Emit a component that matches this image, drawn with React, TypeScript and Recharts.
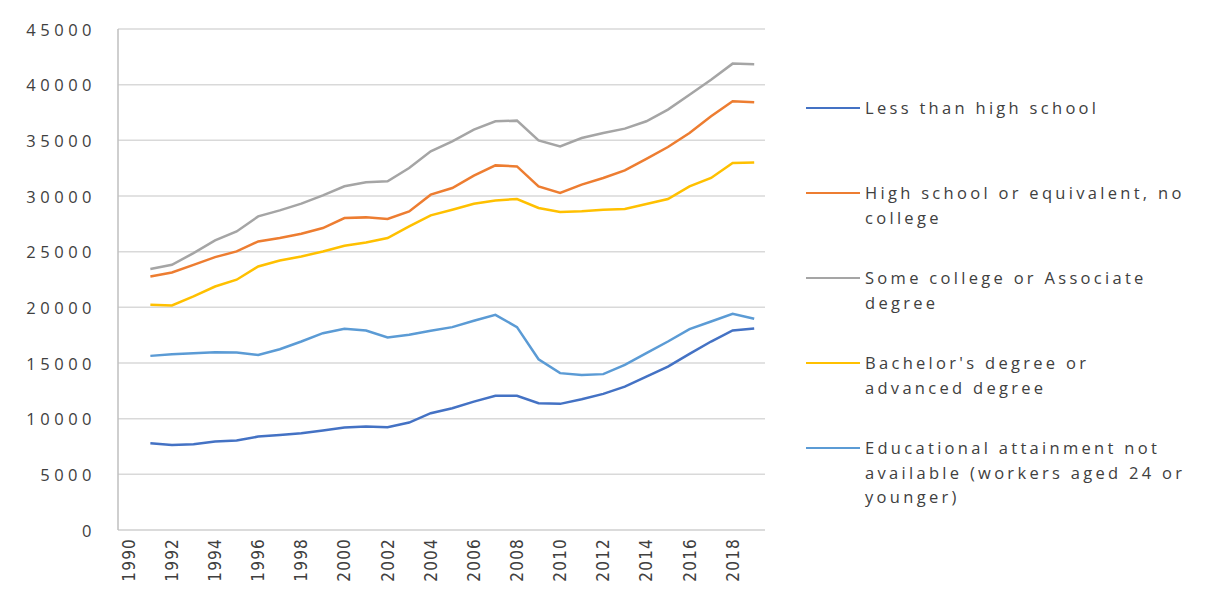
import { LineChart, Line, XAxis, YAxis, CartesianGrid, Legend } from "recharts";

const years = [
  "1990", "1991", "1992", "1993", "1994", "1995", "1996", "1997", "1998", "1999",
  "2000", "2001", "2002", "2003", "2004", "2005", "2006", "2007", "2008", "2009",
  "2010", "2011", "2012", "2013", "2014", "2015", "2016", "2017", "2018", "2019",
];

const lessThanHighSchool = [
  null, 7790, 7640, 7700, 7940, 8030, 8390, 8540, 8690, 8930,
  9200, 9290, 9230, 9650, 10490, 10940, 11530, 12050, 12050, 11390,
  11330, 11750, 12230, 12880, 13780, 14680, 15820, 16930, 17920, 18100,
];
const highSchool = [
  null, 22770, 23130, 23820, 24510, 25020, 25920, 26220, 26610, 27120,
  28020, 28080, 27930, 28620, 30120, 30720, 31830, 32750, 32660, 30860,
  30270, 31020, 31620, 32300, 33330, 34400, 35660, 37160, 38510, 38420,
];
const someCollege = [
  null, 23440, 23820, 24870, 26010, 26820, 28170, 28710, 29310, 30060,
  30870, 31230, 31320, 32510, 34010, 34910, 35960, 36710, 36770, 35000,
  34460, 35210, 35660, 36050, 36710, 37760, 39100, 40450, 41890, 41830,
];
const bachelors = [
  null, 20230, 20170, 20980, 21870, 22480, 23670, 24210, 24570, 25020,
  25530, 25830, 26220, 27270, 28260, 28770, 29310, 29600, 29730, 28920,
  28560, 28620, 28770, 28830, 29280, 29730, 30860, 31620, 32970, 33020,
];
const notAvailable = [
  null, 15640, 15790, 15880, 15970, 15940, 15730, 16240, 16930, 17680,
  18070, 17920, 17290, 17530, 17900, 18220, 18790, 19330, 18220, 15340,
  14090, 13930, 14000, 14830, 15880, 16930, 18040, 18730, 19420, 18970,
];

const yTicks = [0, 5000, 10000, 15000, 20000, 25000, 30000, 35000, 40000, 45000];

// legend text, already broken into the lines the original shows
const legendLines = [
  ["Less than high school"],
  ["High school or equivalent, no", "college"],
  ["Some college or Associate", "degree"],
  ["Bachelor's degree or", "advanced degree"],
  ["Educational attainment not", "available (workers aged 24 or", "younger)"],
];

const series = [
  { key: "less", values: lessThanHighSchool, color: "#4472C4" },
  { key: "hs", values: highSchool, color: "#ED7D31" },
  { key: "some", values: someCollege, color: "#A5A5A5" },
  { key: "ba", values: bachelors, color: "#FFC000" },
  { key: "na", values: notAvailable, color: "#5B9BD5" },
];

const data = years.map((year, i) => {
  const row: Record<string, string | number | null> = { year };
  series.forEach((s) => {
    row[s.key] = s.values[i];
  });
  return row;
});

const textColor = "#404040";

const YearTick = (props: any) => {
  const { x, y, payload } = props;
  return (
    <text
      x={x}
      y={y}
      transform={`rotate(-90, ${x}, ${y})`}
      textAnchor="end"
      dominantBaseline="central"
      fill={textColor}
      style={{
        fontFamily: "'DejaVu Sans Condensed', sans-serif",
        fontSize: 17,
        letterSpacing: 1.2,
      }}
    >
      {payload.value}
    </text>
  );
};

const ValueTick = (props: any) => {
  const { x, y, payload } = props;
  return (
    <text
      x={x - 14}
      y={y}
      textAnchor="end"
      dominantBaseline="central"
      fill={textColor}
      style={{ fontFamily: "'Open Sans', sans-serif", fontSize: 16.5, letterSpacing: 4.5 }}
    >
      {payload.value}
    </text>
  );
};

const SideLegend = () => (
  <div style={{ fontFamily: "'Open Sans', sans-serif", color: textColor }}>
    {series.map((s, i) => (
      <div key={s.key} style={{ display: "flex", alignItems: "flex-start", height: 85 }}>
        <div
          style={{
            width: 54,
            height: 0,
            borderTop: `2.5px solid ${s.color}`,
            marginTop: 11.25,
            marginRight: 5,
            flex: "none",
          }}
        />
        <div style={{ fontSize: 16.5, lineHeight: "24.5px", letterSpacing: 3.3, whiteSpace: "nowrap" }}>
          {legendLines[i].map((line) => (
            <div key={line}>{line}</div>
          ))}
        </div>
      </div>
    ))}
  </div>
);

export default function App() {
  return (
    <div
      style={{
        position: "relative",
        width: 1199,
        height: 584,
        border: "1px solid #d9d9d9",
        margin: "-1px 0 0 -1px",
        background: "#fff",
      }}
    >
      <LineChart
        width={1198}
        height={582}
        data={data}
        margin={{ top: 21, right: 61, bottom: 8, left: 30 }}
      >
        <CartesianGrid vertical={false} stroke="#d9d9d9" strokeWidth={1.5} />
        <XAxis
          dataKey="year"
          interval={1}
          padding={{ left: 10.8, right: 10.8 }}
          tickLine={false}
          axisLine={{ stroke: "#d9d9d9", strokeWidth: 1.5 }}
          height={52}
          tick={<YearTick />}
        />
        <YAxis
          domain={[0, 45000]}
          ticks={yTicks}
          width={80}
          tickLine={false}
          axisLine={{ stroke: "#bfbfbf", strokeWidth: 1.5 }}
          tick={<ValueTick />}
        />
        {series.map((s, i) => (
          <Line
            key={s.key}
            dataKey={s.key}
            name={legendLines[i].join(" ")}
            stroke={s.color}
            strokeWidth={2.5}
            dot={false}
            activeDot={false}
            isAnimationActive={false}
          />
        ))}
        <Legend
          layout="vertical"
          align="right"
          verticalAlign="middle"
          content={<SideLegend />}
          wrapperStyle={{ left: 798, top: 88, width: 380 }}
        />
      </LineChart>
    </div>
  );
}
